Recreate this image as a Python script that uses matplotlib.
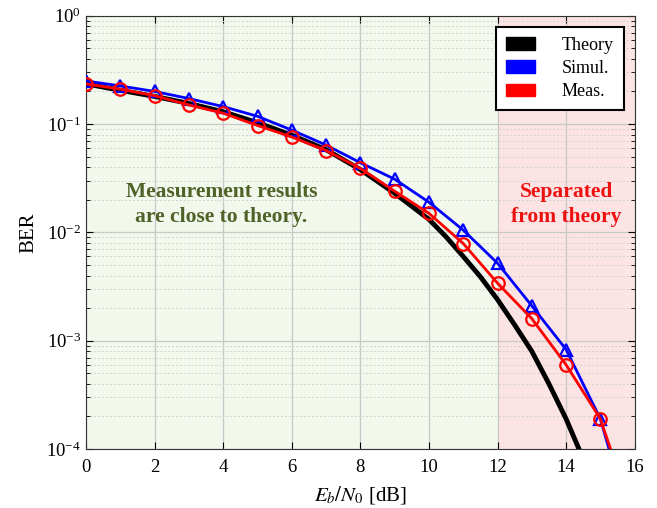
import matplotlib
matplotlib.use("Agg")
import matplotlib.pyplot as plt
from matplotlib.patches import Patch

# Eb/N0 axis
snr_pts = [0, 1, 2, 3, 4, 5, 6, 7, 8, 9, 10, 11, 12, 13, 14, 15, 16]
ber_simul = [0.25, 0.225, 0.20, 0.172, 0.145, 0.118, 0.088, 0.064, 0.044,
             0.031, 0.019, 0.0105, 0.0052, 0.0021, 8.3e-4, 1.9e-4, 1.5e-5]
ber_meas = [0.235, 0.21, 0.183, 0.150, 0.126, 0.097, 0.076, 0.057, 0.039,
            0.024, 0.015, 0.0079, 0.0034, 0.0016, 6.0e-4, 1.9e-4, 2.2e-5]

snr_theory = [0, 1, 2, 3, 4, 5, 6, 7, 8, 9, 10, 10.5, 11, 11.5, 12, 12.5,
              13, 13.5, 14, 14.5, 15]
ber_theory = [0.235, 0.205, 0.18, 0.155, 0.13, 0.103, 0.079, 0.058, 0.038,
              0.023, 0.0132, 0.0091, 0.0060, 0.0039, 0.0024, 0.0014,
              8.0e-4, 4.0e-4, 1.9e-4, 8.1e-5, 3.0e-5]

plt.rcParams["font.family"] = ["Liberation Serif", "DejaVu Serif"]
plt.rcParams["mathtext.fontset"] = "stix"

fig = plt.figure(figsize=(6.57, 5.08), dpi=100)
ax = fig.add_axes([0.131, 0.116, 0.835, 0.853])

# shaded regions
ax.axvspan(0, 12, color="#f2f8ec", zorder=0)
ax.axvspan(12, 16, color="#fce4e4", zorder=0)

ax.plot(snr_theory, ber_theory, color="black", lw=3.5, zorder=3)
ax.plot(snr_pts, ber_simul, color="blue", lw=2, marker="^", ms=9,
        mfc="none", mew=1.6, zorder=4)
ax.plot(snr_pts, ber_meas, color="red", lw=2, marker="o", ms=9,
        mfc="none", mew=1.6, zorder=5)

ax.set_yscale("log")
ax.set_xlim(0, 16)
ax.set_ylim(1e-4, 1)
ax.set_xticks(range(0, 17, 2))

ax.grid(True, which="major", color="#c8c8c8", lw=0.9, zorder=1)
ax.grid(True, which="minor", axis="y", color="#d2d2d2", lw=0.7,
        ls=(0, (2, 2)), zorder=1)
ax.set_axisbelow(True)
ax.tick_params(which="both", direction="in", top=True, right=True,
               labelsize=13.5)
ax.tick_params(axis="x", which="major", pad=7)
ax.tick_params(which="major", length=5)
ax.tick_params(which="minor", length=3)
for s in ax.spines.values():
    s.set_color("#333333")

ax.set_xlabel(r"$E_b/N_0$ [dB]", fontsize=15, labelpad=6)
ax.set_ylabel("BER", fontsize=15, labelpad=6)

ax.text(3.95, 0.018, "Measurement results\nare close to theory.",
        ha="center", va="center", fontsize=15.5, fontweight="bold",
        color="#4f6228", linespacing=1.35)
ax.text(14.0, 0.018, "Separated\nfrom theory", ha="center", va="center",
        fontsize=15.5, fontweight="bold", color="#ee1111", linespacing=1.35)

handles = [Patch(color="black"), Patch(color="blue"), Patch(color="red")]
leg = ax.legend(handles, ["Theory", "Simul.", "Meas."], loc="upper right",
                fontsize=13, fancybox=False, framealpha=1,
                edgecolor="black", handlelength=1.6, handleheight=0.7,
                handletextpad=1.5, borderpad=0.55, labelspacing=0.35,
                borderaxespad=0.6)
leg.get_frame().set_linewidth(1.5)

fig.savefig("out.png", dpi=100)
